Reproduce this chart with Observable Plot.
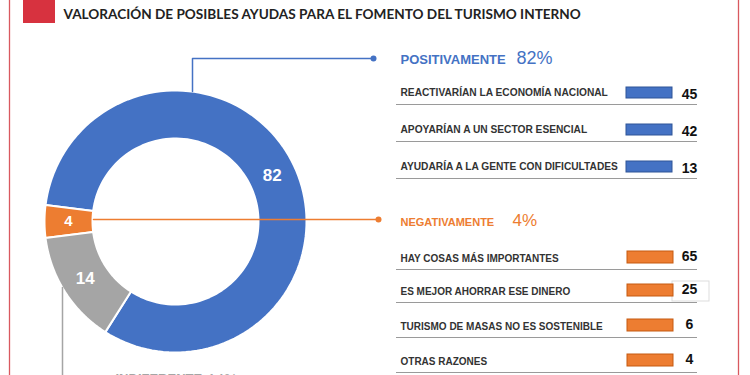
<!DOCTYPE html>
<html>
<head>
<meta charset="utf-8">
<script src="https://cdn.jsdelivr.net/npm/d3@7"></script>
<script src="https://cdn.jsdelivr.net/npm/@observablehq/plot@0.6"></script>
<style>
  html, body { margin: 0; padding: 0; background: #fff; }
  #chart svg { display: block; }
</style>
</head>
<body>
<div id="chart"></div>
<script>
// ---------- DATA ----------
const titleText = "VALORACIÓN DE POSIBLES AYUDAS PARA EL FOMENTO DEL TURISMO INTERNO";
const segLabels = ["POSITIVAMENTE", "NEGATIVAMENTE", "INDIFERENTE"];
const segValues = [82, 4, 14];
const posLabels = ["REACTIVARÍAN LA ECONOMÍA NACIONAL", "APOYARÍAN A UN SECTOR ESENCIAL", "AYUDARÍA A LA GENTE CON DIFICULTADES"];
const posValues = [45, 42, 13];
const negLabels = ["HAY COSAS MÁS IMPORTANTES", "ES MEJOR AHORRAR ESE DINERO", "TURISMO DE MASAS NO ES SOSTENIBLE", "OTRAS RAZONES"];
const negValues = [65, 25, 6, 4];

// ---------- STYLE / LAYOUT ----------
const colors = ["#4472C4", "#ED7D31", "#A5A5A5"];
const barStroke = ["#2F5597", "#C55A11"];
const W = 750, H = 375;
const cx = 175, cy = 221, rOut = 131, rIn = 83;
const sans = "'Liberation Sans', Arial, sans-serif";

// donut slices
const total = d3.sum(segValues);
const startDeg = 270 + (segValues[1] / 2 + segValues[0]) / total * 360;
const pie = d3.pie().sort(null)
  .startAngle(startDeg * Math.PI / 180)
  .endAngle((startDeg - 360) * Math.PI / 180);
const arcs = pie(segValues);
const pt = (a, r) => [cx + r * Math.sin(a), cy - r * Math.cos(a)];
const slicePolys = arcs.map((a, i) => {
  const n = 120, pts = [];
  for (let k = 0; k <= n; k++) pts.push(pt(a.startAngle + (a.endAngle - a.startAngle) * k / n, rOut));
  for (let k = n; k >= 0; k--) pts.push(pt(a.startAngle + (a.endAngle - a.startAngle) * k / n, rIn));
  pts.push(pts[0]);
  return pts;
});
const sliceLabels = arcs.map((a, i) => {
  const m = (a.startAngle + a.endAngle) / 2;
  const [x, y] = pt(m, (rOut + rIn) / 2);
  return {x, y, text: String(segValues[i]), size: i === 1 ? 15 : 17};
});

// callouts
const bx = cx + 17;
const blueCallout = [[bx, cy - Math.sqrt(rOut * rOut - 17 * 17)], [bx, 58], [373, 58]];
const orangeCallout = [[cx - rIn + 1, cy - 2], [378, cy - 2]];
const grayCallout = [[62, 287], [62, H + 10]];

// right panel rows
const posRows = posLabels.map((l, i) => ({label: l, value: posValues[i], y: 95 + i * 37}));
const negRows = negLabels.map((l, i) => ({label: l, value: negValues[i], y: [261, 294, 329, 364][i]}));

const lineXY = {x: d => d[0], y: d => d[1]};

const marks = [
  // frame
  Plot.ruleX([9, 738], {y1: 0, y2: H, stroke: "#D9595F", strokeWidth: 1.3}),
  Plot.rect([0], {x1: 23, x2: 55, y1: 0, y2: 23, fill: "#D7323F"}),
  Plot.text([titleText], {x: 63, y: 18, text: d => d, textAnchor: "start", lineAnchor: "bottom",
    fontFamily: "Lato, 'Open Sans', sans-serif", fontWeight: "bold", fontSize: 13.6, fill: "#222"}),

  // donut
  ...slicePolys.map((p, i) => Plot.line(p, {...lineXY, fill: colors[i], stroke: "white", strokeWidth: 2, strokeLinejoin: "round", curve: "linear"})),
  Plot.text(sliceLabels, {x: "x", y: "y", text: "text", fontSize: d => d.size, fill: "white", fontWeight: "bold", fontFamily: sans}),

  // callouts
  Plot.line(blueCallout, {...lineXY, stroke: colors[0], strokeWidth: 1.5}),
  Plot.dot([blueCallout[2]], {...lineXY, r: 3, fill: colors[0], stroke: "none"}),
  Plot.line(orangeCallout, {...lineXY, stroke: colors[1], strokeWidth: 1.5}),
  Plot.dot([orangeCallout[1]], {...lineXY, r: 3, fill: colors[1], stroke: "none"}),
  Plot.line(grayCallout, {...lineXY, stroke: colors[2], strokeWidth: 1.5}),

  // headers
  Plot.text([segLabels[0]], {x: 400, y: 63, text: d => d, textAnchor: "start", lineAnchor: "bottom", fontSize: 13, fontWeight: "bold", fill: colors[0], fontFamily: sans}),
  Plot.text([segValues[0]], {x: 516, y: 63, text: d => d + "%", textAnchor: "start", lineAnchor: "bottom", fontSize: 18, fill: colors[0], fontFamily: sans}),
  Plot.text([segLabels[1]], {x: 400, y: 225, text: d => d, textAnchor: "start", lineAnchor: "bottom", fontSize: 11, fontWeight: "bold", fill: colors[1], fontFamily: sans}),
  Plot.text([segValues[1]], {x: 512, y: 225, text: d => d + "%", textAnchor: "start", lineAnchor: "bottom", fontSize: 17, fill: colors[1], fontFamily: sans}),
  Plot.text([segLabels[2]], {x: 115, y: 382, text: d => d, textAnchor: "start", lineAnchor: "bottom", fontSize: 13, fontWeight: "bold", fill: colors[2], fontFamily: sans}),
  Plot.text([segValues[2]], {x: 207, y: 383, text: d => d + "%", textAnchor: "start", lineAnchor: "bottom", fontSize: 15, fill: colors[2], fontFamily: sans}),

  // positive rows
  Plot.ruleY(posRows, {y: d => d.y + 9, x1: 396, x2: 697, stroke: "#9a9a9a", strokeWidth: 1}),
  Plot.text(posRows, {x: 400, y: "y", text: "label", textAnchor: "start", lineAnchor: "bottom", fontSize: 10.2, fontWeight: "bold", fill: "#333", fontFamily: sans}),
  Plot.rect(posRows, {x1: 626, x2: 672, y1: d => d.y - 8, y2: d => d.y + 3, fill: colors[0], stroke: barStroke[0], strokeWidth: 1}),
  Plot.text(posRows, {x: 689, y: d => d.y + 3, text: "value", lineAnchor: "bottom", fontSize: 14, fontWeight: "bold", fill: "#111", fontFamily: sans}),

  // negative rows
  Plot.ruleY(negRows, {y: d => d.y + 8, x1: 396, x2: 697, stroke: "#9a9a9a", strokeWidth: 1}),
  Plot.rect([negRows[1]], {x1: 672, x2: 709, y1: d => d.y - 13, y2: d => d.y + 7, fill: "white", stroke: "#dddddd", strokeWidth: 1}),
  Plot.text(negRows, {x: 400, y: "y", text: "label", textAnchor: "start", lineAnchor: "bottom", fontSize: 10, fontWeight: "bold", fill: "#333", fontFamily: sans}),
  Plot.rect(negRows, {x1: 627, x2: 673, y1: d => d.y - 10, y2: d => d.y + 2, fill: colors[1], stroke: barStroke[1], strokeWidth: 1}),
  Plot.text(negRows, {x: 689, y: d => d.y - 1, text: "value", lineAnchor: "bottom", fontSize: 14, fontWeight: "bold", fill: "#111", fontFamily: sans})
];

const chart = Plot.plot({
  width: W, height: H, margin: 0,
  x: {domain: [0, W], range: [0, W], axis: null},
  y: {domain: [0, H], range: [0, H], axis: null},
  style: {background: "white", fontFamily: sans, overflow: "hidden"},
  marks
});
document.getElementById("chart").appendChild(chart);
</script>
</body>
</html>
